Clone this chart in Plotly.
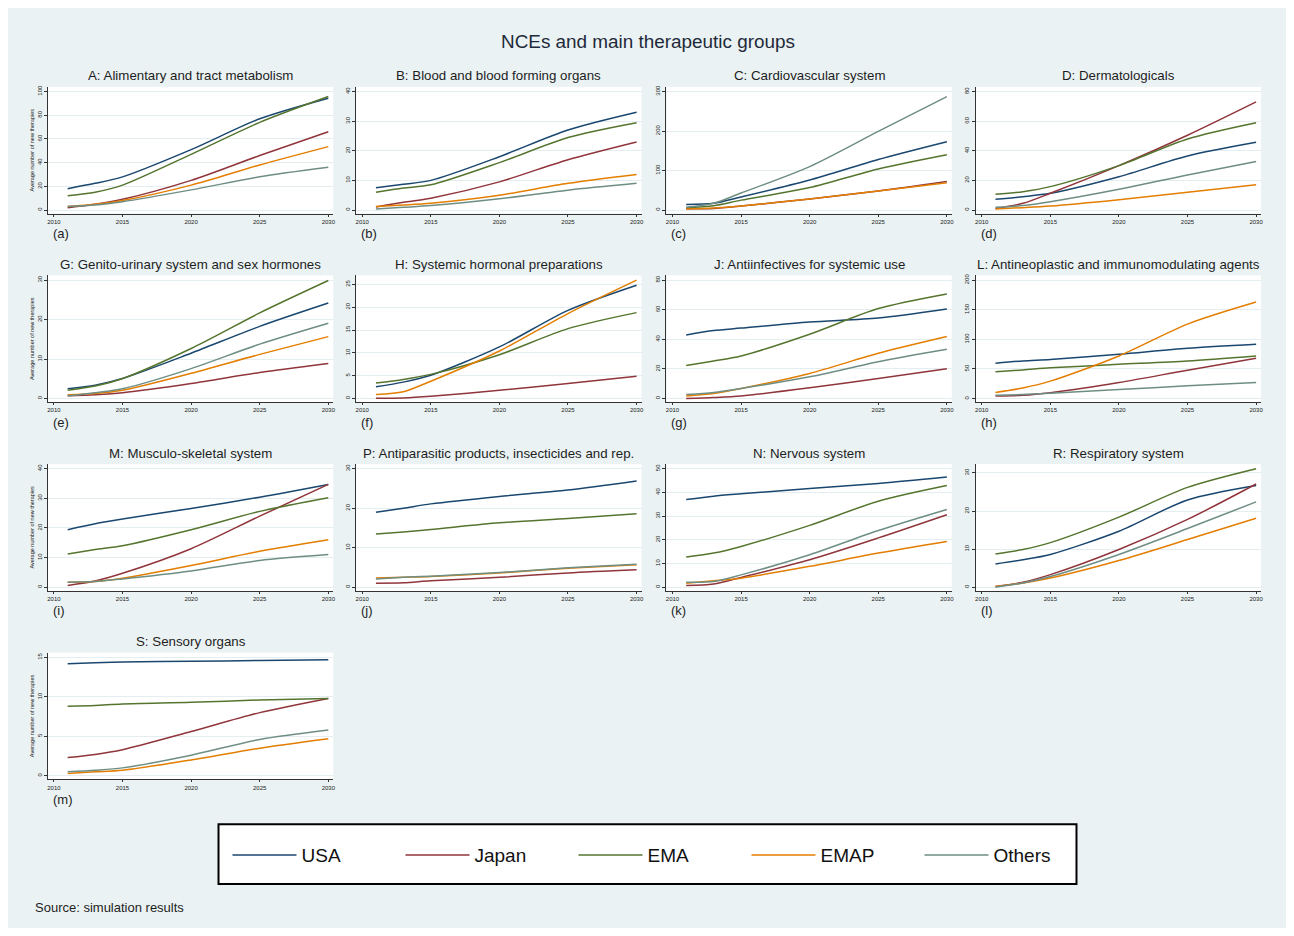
import plotly.graph_objects as go

# ---------------- data ----------------
years = [2011, 2013, 2015, 2020, 2025, 2030]
series_names = ["USA", "Japan", "EMA", "EMAP", "Others"]
series_colors = ["#1a476f", "#90353b", "#55752f", "#e37e00", "#6e8e84"]

panel_titles = [
    "A: Alimentary and tract metabolism", "B: Blood and blood forming organs",
    "C: Cardiovascular system", "D: Dermatologicals",
    "G: Genito-urinary system and sex hormones", "H: Systemic hormonal preparations",
    "J: Antiinfectives for systemic use", "L: Antineoplastic and immunomodulating agents",
    "M: Musculo-skeletal system", "P: Antiparasitic products, insecticides and rep.",
    "N: Nervous system", "R: Respiratory system", "S: Sensory organs",
]
panel_tags = ["(a)", "(b)", "(c)", "(d)", "(e)", "(f)", "(g)", "(h)", "(i)", "(j)", "(k)", "(l)", "(m)"]
x_ticks = [2010, 2015, 2020, 2025, 2030]

a_yticks = [0, 20, 40, 60, 80, 100]
a_usa = [18, 22.5, 28, 51, 77, 94.4]
a_japan = [2, 4.8, 9, 25, 46, 66]
a_ema = [12, 15, 21, 47, 74, 95.8]
a_emap = [3, 4.8, 8, 21, 38, 53.5]
a_others = [3, 4.2, 7, 17, 28, 36]

b_yticks = [0, 10, 20, 30, 40]
b_usa = [7.5, 8.7, 10, 18, 27, 33]
b_japan = [1.0, 2.6, 4, 9.5, 17, 23]
b_ema = [6, 7.4, 8.5, 16, 24.5, 29.5]
b_emap = [1.2, 1.7, 2.3, 5, 9, 12]
b_others = [0.3, 0.9, 1.5, 3.8, 6.7, 9]

c_yticks = [0, 100, 200, 300]
c_usa = [14, 17, 33, 76, 128, 173]
c_japan = [3, 4, 10, 28, 48, 72]
c_ema = [6, 11, 25, 57, 104, 140]
c_emap = [2.5, 5, 10, 28, 48, 69]
c_others = [7, 17, 43, 110, 199, 287]

d_yticks = [0, 20, 40, 60, 80]
d_usa = [7.2, 9, 11.3, 22.5, 36.5, 45.7]
d_japan = [1, 4.5, 11.3, 30, 50.5, 73]
d_ema = [10.6, 12.4, 15.8, 30, 48, 59]
d_emap = [0.7, 1.6, 2.7, 7, 12, 17]
d_others = [1.8, 3, 5.6, 14, 23.7, 32.7]

g_yticks = [0, 10, 20, 30]
g_usa = [2.5, 3.4, 5.1, 11.5, 18.3, 24.2]
g_japan = [0.7, 1.0, 1.5, 3.8, 6.6, 8.9]
g_ema = [2.1, 3.2, 5.1, 12.7, 21.7, 29.9]
g_emap = [1.0, 1.3, 2.1, 6.4, 11.2, 15.7]
g_others = [0.7, 1.5, 2.5, 7.6, 13.8, 19.1]

h_yticks = [0, 5, 10, 15, 20, 25]
h_usa = [2.6, 3.6, 5.1, 11.3, 19.3, 24.8]
h_japan = [0.1, 0.15, 0.5, 1.8, 3.3, 4.9]
h_ema = [3.4, 4.2, 5.3, 9.6, 15.3, 18.8]
h_emap = [0.9, 1.5, 3.8, 10.4, 18.6, 25.9]
h_others = None

j_yticks = [0, 20, 40, 60, 80]
j_usa = [43, 46, 47.6, 51.7, 54.4, 60.5]
j_japan = [0, 0.7, 1.8, 7.3, 13.6, 20.2]
j_ema = [22.4, 25.4, 28.8, 43.5, 60.8, 70.7]
j_emap = [1.8, 3.4, 6.8, 17, 30.6, 41.9]
j_others = [2.7, 4.1, 6.8, 14.7, 24.9, 33.3]

l_yticks = [0, 50, 100, 150, 200]
l_usa = [59.5, 63.5, 66, 74.8, 85, 91.8]
l_japan = [4.5, 5.7, 10, 27, 48, 68]
l_ema = [45.3, 48.3, 52, 57.8, 63.5, 72]
l_emap = [10.2, 18, 29.5, 72, 125.8, 163]
l_others = [5.7, 6.8, 9, 15.3, 21.5, 27.2]

m_yticks = [0, 10, 20, 30, 40]
m_usa = [19.4, 21.4, 23, 26.6, 30.4, 34.7]
m_japan = [0.6, 2.1, 4.7, 13, 24, 34.7]
m_ema = [11.2, 12.7, 14, 19.4, 25.6, 30.2]
m_emap = [1.7, 1.9, 3, 7.3, 12.1, 16]
m_others = [1.7, 1.9, 2.8, 5.5, 9, 11]

p_yticks = [0, 10, 20, 30]
p_usa = [19, 20, 21.1, 23, 24.6, 26.9]
p_japan = [1, 1.1, 1.6, 2.5, 3.6, 4.4]
p_ema = [13.5, 14, 14.6, 16.3, 17.4, 18.6]
p_emap = [2.3, 2.5, 2.7, 3.6, 4.8, 5.7]
p_others = [2.1, 2.5, 2.8, 3.7, 4.9, 5.8]

n_yticks = [0, 10, 20, 30, 40, 50]
n_usa = [37, 38.4, 39.4, 41.7, 43.8, 46.5]
n_japan = [0.7, 1.3, 4.1, 11.6, 20.8, 30.6]
n_ema = [12.7, 14.4, 17.2, 26.1, 36.3, 42.9]
n_emap = [1.7, 2.7, 3.8, 8.8, 14.4, 19.3]
n_others = [2.1, 2.4, 5.2, 13.7, 23.9, 32.8]

r_yticks = [0, 10, 20, 30]
r_usa = [6.1, 7.2, 8.6, 14.7, 22.9, 26.7]
r_japan = [0.2, 1.3, 3.3, 9.9, 17.8, 27.1]
r_ema = [8.7, 9.9, 11.7, 18.4, 26.2, 31.1]
r_emap = [0.2, 1.1, 2.4, 7, 12.5, 18.1]
r_others = [0, 1.1, 2.8, 8.6, 15.4, 22.4]

s_yticks = [0, 5, 10, 15]
s_usa = [14.2, 14.3, 14.4, 14.5, 14.6, 14.7]
s_japan = [2.3, 2.7, 3.3, 5.6, 8, 9.8]
s_ema = [8.8, 8.9, 9.1, 9.3, 9.6, 9.8]
s_emap = [0.3, 0.5, 0.7, 2, 3.5, 4.7]
s_others = [0.5, 0.7, 1, 2.6, 4.6, 5.8]

panels = [
    (a_yticks, [a_usa, a_japan, a_ema, a_emap, a_others]),
    (b_yticks, [b_usa, b_japan, b_ema, b_emap, b_others]),
    (c_yticks, [c_usa, c_japan, c_ema, c_emap, c_others]),
    (d_yticks, [d_usa, d_japan, d_ema, d_emap, d_others]),
    (g_yticks, [g_usa, g_japan, g_ema, g_emap, g_others]),
    (h_yticks, [h_usa, h_japan, h_ema, h_emap, h_others]),
    (j_yticks, [j_usa, j_japan, j_ema, j_emap, j_others]),
    (l_yticks, [l_usa, l_japan, l_ema, l_emap, l_others]),
    (m_yticks, [m_usa, m_japan, m_ema, m_emap, m_others]),
    (p_yticks, [p_usa, p_japan, p_ema, p_emap, p_others]),
    (n_yticks, [n_usa, n_japan, n_ema, n_emap, n_others]),
    (r_yticks, [r_usa, r_japan, r_ema, r_emap, r_others]),
    (s_yticks, [s_usa, s_japan, s_ema, s_emap, s_others]),
]

# ---------------- layout geometry (page pixels; page body has 8px margin) ----------------
W, H = 1278, 920
OFF = 8
col_left = [47, 356, 667, 977]
row_top = [85, 274, 463, 652]
pw, ph = 286, 127
FONT = "Liberation Sans, Arial, sans-serif"

def fx(px):
    return (px - OFF) / W

def fy(py):
    return 1 - (py - OFF) / H

fig = go.Figure()
annotations = []
layout_axes = {}

for i, (yt, series) in enumerate(panels):
    r, c = divmod(i, 4)
    k = "" if i == 0 else str(i + 1)
    left, top = col_left[c], row_top[r]
    bottom = top + ph
    for j, vals in enumerate(series):
        if vals is None:
            continue
        fig.add_trace(go.Scatter(
            x=years, y=vals, mode="lines",
            line=dict(color=series_colors[j], width=1.5, shape="spline", smoothing=0.8),
            name=series_names[j], legendgroup=series_names[j],
            showlegend=(i == 0), xaxis="x" + k, yaxis="y" + k,
        ))
    top_val = max(max(yt), max(max(v) for v in series if v is not None))
    yrange = [-0.03 * top_val, top_val * 1.04]
    layout_axes["xaxis" + k] = dict(
        domain=[fx(left), fx(left + pw)], anchor="y" + k,
        range=[2009.56, 2030.36], tickvals=x_ticks,
        tickfont=dict(size=6, color="#222", family=FONT),
        ticks="outside", ticklen=2, tickcolor="#333", showline=True,
        linecolor="#333", linewidth=1, showgrid=False, zeroline=False,
    )
    ycfg = dict(
        domain=[fy(bottom), fy(top)], anchor="x" + k,
        range=yrange, tickvals=yt, tickangle=-90,
        tickfont=dict(size=6, color="#222", family=FONT),
        ticks="outside", ticklen=3, tickcolor="#333", showline=True,
        linecolor="#333", linewidth=1, showgrid=True, gridcolor="#e4eef0",
        gridwidth=1, zeroline=False,
    )
    if c == 0:
        ycfg["title"] = dict(text="Average number of new therapies",
                             font=dict(size=5.5, color="#222", family=FONT), standoff=1)
    layout_axes["yaxis" + k] = ycfg
    annotations.append(dict(
        text=panel_titles[i], x=fx(left + pw / 2), y=fy(top - 11),
        xref="paper", yref="paper", showarrow=False, xanchor="center", yanchor="middle",
        font=dict(size=13.3, color="#1e1e1e", family=FONT),
    ))
    annotations.append(dict(
        text=panel_tags[i], x=fx(left + 3), y=fy(bottom + 20),
        xref="paper", yref="paper", showarrow=False, xanchor="left", yanchor="middle",
        font=dict(size=13, color="#1e1e1e", family=FONT),
    ))

annotations.append(dict(
    text="NCEs and main therapeutic groups", x=fx(649), y=fy(40),
    xref="paper", yref="paper", showarrow=False, xanchor="center", yanchor="middle",
    font=dict(size=18.9, color="#1e2a3a", family=FONT),
))
annotations.append(dict(
    text="Source: simulation results", x=fx(32), y=fy(907),
    xref="paper", yref="paper", showarrow=False, xanchor="left", yanchor="middle",
    font=dict(size=13, color="#1e1e1e", family=FONT),
))

fig.update_layout(
    width=W, height=H,
    margin=dict(l=0, r=0, t=0, b=0),
    paper_bgcolor="#eaf2f3", plot_bgcolor="white",
    font=dict(family=FONT),
    annotations=annotations,
    shapes=[dict(type="rect", xref="paper", yref="paper",
                 x0=fx(218), x1=fx(1078), y0=fy(884), y1=fy(824),
                 line=dict(color="black", width=2), fillcolor="white", layer="below")],
    legend=dict(
        orientation="h", x=fx(227), xanchor="left", y=fy(855), yanchor="middle",
        bgcolor="rgba(0,0,0,0)", borderwidth=0,
        font=dict(size=19, color="#111", family=FONT),
        entrywidth=94, entrywidthmode="pixels", itemwidth=64,
    ),
    **layout_axes,
)

fig.write_html("out.html")
